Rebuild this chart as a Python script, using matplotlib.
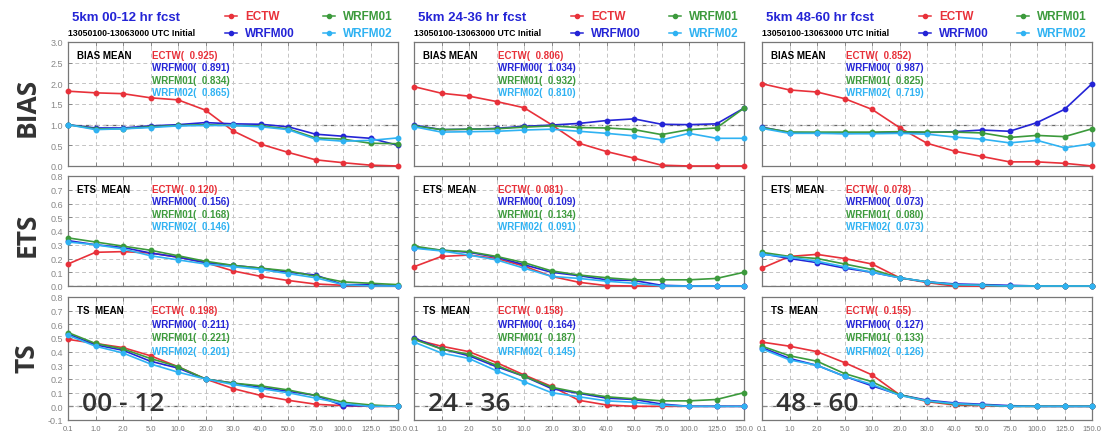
import numpy as np
import matplotlib.pyplot as plt
from matplotlib.lines import Line2D

# precipitation thresholds (mm)
thresholds = ["0.1", "1.0", "2.0", "5.0", "10.0", "20.0", "30.0",
              "40.0", "50.0", "75.0", "100.0", "125.0", "150.0"]
models = ["ECTW", "WRFM00", "WRFM01", "WRFM02"]
model_colors = ["#e8313a", "#2424d6", "#3c9a3c", "#2fb2f2"]
leads = ["00-12", "24-36", "48-60"]
lead_tags = ["00 - 12", "24 - 36", "48 - 60"]

# BIAS, rows = ECTW, WRFM00, WRFM01, WRFM02
bias_00_12 = [
    [1.81, 1.77, 1.75, 1.65, 1.60, 1.35, 0.85, 0.53, 0.33, 0.15, 0.08, 0.02, 0.0],
    [1.00, 0.92, 0.92, 0.97, 1.00, 1.05, 1.02, 1.01, 0.95, 0.77, 0.72, 0.67, 0.50],
    [1.00, 0.90, 0.90, 0.95, 0.98, 1.00, 0.98, 0.97, 0.90, 0.68, 0.65, 0.55, 0.54],
    [1.00, 0.88, 0.90, 0.93, 0.97, 0.98, 0.98, 0.95, 0.88, 0.65, 0.60, 0.62, 0.68],
]
bias_24_36 = [
    [1.92, 1.76, 1.69, 1.56, 1.41, 1.00, 0.55, 0.35, 0.19, 0.02, 0.0, 0.0, 0.0],
    [0.99, 0.88, 0.89, 0.91, 0.96, 0.99, 1.03, 1.10, 1.14, 1.01, 1.00, 1.02, 1.40],
    [0.97, 0.88, 0.89, 0.90, 0.94, 0.97, 0.93, 0.92, 0.88, 0.76, 0.88, 0.92, 1.40],
    [0.95, 0.82, 0.83, 0.84, 0.87, 0.89, 0.84, 0.79, 0.73, 0.63, 0.79, 0.67, 0.67],
]
bias_48_60 = [
    [1.99, 1.84, 1.79, 1.63, 1.37, 0.93, 0.55, 0.36, 0.23, 0.10, 0.10, 0.065, 0.0],
    [0.94, 0.81, 0.80, 0.79, 0.80, 0.82, 0.81, 0.83, 0.87, 0.84, 1.05, 1.37, 1.99],
    [0.93, 0.82, 0.82, 0.82, 0.82, 0.83, 0.82, 0.82, 0.80, 0.69, 0.74, 0.71, 0.90],
    [0.91, 0.79, 0.79, 0.78, 0.78, 0.79, 0.77, 0.70, 0.65, 0.56, 0.62, 0.44, 0.54],
]

# ETS
ets_00_12 = [
    [0.16, 0.245, 0.25, 0.24, 0.21, 0.17, 0.11, 0.07, 0.04, 0.015, 0.005, 0.0, 0.0],
    [0.33, 0.30, 0.28, 0.24, 0.21, 0.17, 0.15, 0.13, 0.10, 0.08, 0.01, 0.01, 0.0],
    [0.35, 0.32, 0.29, 0.26, 0.22, 0.18, 0.15, 0.13, 0.11, 0.07, 0.03, 0.02, 0.01],
    [0.32, 0.30, 0.27, 0.22, 0.19, 0.16, 0.14, 0.12, 0.09, 0.06, 0.01, 0.0, 0.0],
]
ets_24_36 = [
    [0.14, 0.215, 0.225, 0.20, 0.145, 0.07, 0.027, 0.003, 0.0, 0.0, 0.0, 0.0, 0.0],
    [0.28, 0.26, 0.245, 0.21, 0.155, 0.10, 0.075, 0.045, 0.04, 0.005, 0.0, 0.0, 0.0],
    [0.29, 0.26, 0.25, 0.215, 0.17, 0.11, 0.08, 0.06, 0.045, 0.045, 0.045, 0.055, 0.10],
    [0.275, 0.255, 0.225, 0.19, 0.13, 0.07, 0.055, 0.035, 0.02, 0.0, 0.0, 0.0, 0.0],
]
ets_48_60 = [
    [0.13, 0.215, 0.23, 0.20, 0.16, 0.06, 0.025, 0.0, 0.0, 0.0, 0.0, 0.0, 0.0],
    [0.235, 0.20, 0.17, 0.13, 0.10, 0.06, 0.03, 0.015, 0.01, 0.005, 0.0, 0.0, 0.0],
    [0.245, 0.215, 0.20, 0.16, 0.12, 0.06, 0.03, 0.01, 0.005, 0.0, 0.0, 0.0, 0.0],
    [0.23, 0.21, 0.18, 0.14, 0.10, 0.06, 0.03, 0.01, 0.005, 0.0, 0.0, 0.0, 0.0],
]

# TS
ts_00_12 = [
    [0.49, 0.46, 0.43, 0.37, 0.29, 0.20, 0.13, 0.08, 0.045, 0.015, 0.005, 0.0, 0.0],
    [0.53, 0.45, 0.41, 0.33, 0.28, 0.20, 0.17, 0.14, 0.11, 0.08, 0.005, 0.005, 0.0],
    [0.54, 0.46, 0.42, 0.35, 0.29, 0.20, 0.17, 0.15, 0.12, 0.08, 0.03, 0.01, 0.0],
    [0.52, 0.44, 0.39, 0.31, 0.25, 0.20, 0.16, 0.13, 0.10, 0.06, 0.02, 0.0, 0.0],
]
ts_24_36 = [
    [0.49, 0.44, 0.40, 0.32, 0.23, 0.146, 0.044, 0.01, 0.0, 0.0, 0.0, 0.0, 0.0],
    [0.50, 0.42, 0.37, 0.29, 0.22, 0.13, 0.095, 0.06, 0.05, 0.017, 0.0, 0.0, 0.0],
    [0.49, 0.42, 0.38, 0.30, 0.22, 0.14, 0.10, 0.07, 0.055, 0.04, 0.04, 0.05, 0.10],
    [0.47, 0.39, 0.35, 0.26, 0.18, 0.10, 0.07, 0.04, 0.03, 0.01, 0.0, 0.0, 0.0],
]
ts_48_60 = [
    [0.47, 0.44, 0.40, 0.32, 0.23, 0.085, 0.035, 0.01, 0.005, 0.0, 0.0, 0.0, 0.0],
    [0.43, 0.35, 0.30, 0.22, 0.15, 0.085, 0.045, 0.025, 0.015, 0.005, 0.0, 0.0, 0.0],
    [0.44, 0.37, 0.33, 0.24, 0.18, 0.085, 0.04, 0.015, 0.01, 0.0, 0.0, 0.0, 0.0],
    [0.42, 0.34, 0.30, 0.22, 0.16, 0.08, 0.04, 0.02, 0.01, 0.0, 0.0, 0.0, 0.0],
]

# period mean scores printed in each panel
mean_bias = [[0.925, 0.891, 0.834, 0.865], [0.806, 1.034, 0.932, 0.810], [0.852, 0.987, 0.825, 0.719]]
mean_ets = [[0.120, 0.156, 0.168, 0.146], [0.081, 0.109, 0.134, 0.091], [0.078, 0.073, 0.080, 0.073]]
mean_ts = [[0.198, 0.211, 0.221, 0.201], [0.158, 0.164, 0.187, 0.145], [0.155, 0.127, 0.133, 0.126]]

scores = [
    ("BIAS", [bias_00_12, bias_24_36, bias_48_60], mean_bias, (0, 3.0), np.arange(0, 3.01, 0.5), 1.0),
    ("ETS", [ets_00_12, ets_24_36, ets_48_60], mean_ets, (0, 0.8), np.arange(0, 0.81, 0.1), 0.0),
    ("TS", [ts_00_12, ts_24_36, ts_48_60], mean_ts, (-0.1, 0.8), np.arange(-0.1, 0.81, 0.1), 0.0),
]

W, H = 1107, 435
fig = plt.figure(figsize=(W / 100, H / 100), dpi=100)

col_left = [68, 414, 762]
col_width = 330
row_box = [(43, 167), (177, 287), (298, 421)]  # top, bottom in pixels
row_label_y = [107, 235, 358]

x = np.arange(len(thresholds))
HEAD = "Liberation Sans"

for r, (name, panels, means, ylim, yticks, refline) in enumerate(scores):
    top, bot = row_box[r]
    fig.text(27 / W, 1 - row_label_y[r] / H, name, rotation=90, ha="center", va="center",
             fontsize=19, fontweight="bold", color="#333333", family="Open Sans")
    for c in range(3):
        ax = fig.add_axes([col_left[c] / W, 1 - bot / H, col_width / W, (bot - top) / H])
        ax.set_xlim(0, len(thresholds) - 1)
        ax.set_ylim(*ylim)
        ax.set_xticks(x)
        ax.set_yticks(yticks)
        ax.grid(True, color="#c4c4c4", linestyle=(0, (4, 3)), linewidth=0.7)
        ax.axhline(refline, color="#666666", linestyle=(0, (4, 3)), linewidth=0.9, zorder=1)
        ax.tick_params(direction="in", length=3, width=0.7, colors="#888888",
                       top=True, right=True, labelsize=5.5)
        for sp in ax.spines.values():
            sp.set_color("#777777")
            sp.set_linewidth(0.9)
        if r == 2:
            ax.set_xticklabels(thresholds, fontsize=5.5, color="#777777", family=HEAD)
        else:
            ax.set_xticklabels([])
        if c == 0:
            ax.set_yticklabels(["%.1f" % v for v in yticks], fontsize=6.5,
                               color="#888888", family=HEAD)
        else:
            ax.set_yticklabels([])

        for series, color in zip(panels[c], model_colors):
            ax.plot(x, series, color=color, linewidth=1.2, marker="o", markersize=3.2,
                    clip_on=False, zorder=3)

        # score means block
        label_gap = 12.5 if r < 2 else 13.6
        ax.annotate(name + "  MEAN" if name != "BIAS" else "BIAS MEAN", xy=(0, 1),
                    xycoords="axes fraction", xytext=(9, -13), textcoords="offset pixels",
                    fontsize=7, fontweight="bold", color="black", family=HEAD,
                    va="center", ha="left")
        for k, (m, color) in enumerate(zip(models, model_colors)):
            ax.annotate("%s( %6.3f)" % (m, means[c][k]), xy=(0, 1),
                        xycoords="axes fraction",
                        xytext=(84, -13 - k * label_gap), textcoords="offset pixels",
                        fontsize=7, fontweight="bold", color=color, family=HEAD,
                        va="center", ha="left")

        if r == 2:
            ax.annotate(lead_tags[c], xy=(0, 0), xycoords="axes fraction",
                        xytext=(14, 4), textcoords="offset pixels", fontsize=19,
                        color="#333333", family="Open Sans", fontweight="semibold",
                        va="bottom", ha="left")

# header over each column: title, init period and legend
for c in range(3):
    L = col_left[c]
    fig.text((L + 4) / W, 1 - 18 / H, "5km %s hr fcst" % leads[c], fontsize=9.5,
             fontweight="bold", color="#2424d6", family=HEAD, va="center")
    fig.text(L / W, 1 - 34 / H, "13050100-13063000 UTC Initial", fontsize=6.3,
             fontweight="bold", color="black", family=HEAD, va="center")
    legend_pos = [(157, 17), (157, 34), (255, 17), (255, 34)]
    for (dx, py), m, color in zip(legend_pos, models, model_colors):
        ly = 1 - py / H
        fig.add_artist(Line2D([(L + dx) / W, (L + dx + 12) / W], [ly, ly],
                              transform=fig.transFigure, color=color, linewidth=1.1))
        fig.add_artist(Line2D([(L + dx + 6) / W], [ly], transform=fig.transFigure,
                              color=color, marker="o", markersize=3))
        fig.text((L + dx + 20) / W, ly, m, fontsize=8.5, fontweight="bold",
                 color=color, family=HEAD, va="center")

fig.savefig("out.png", dpi=100)
